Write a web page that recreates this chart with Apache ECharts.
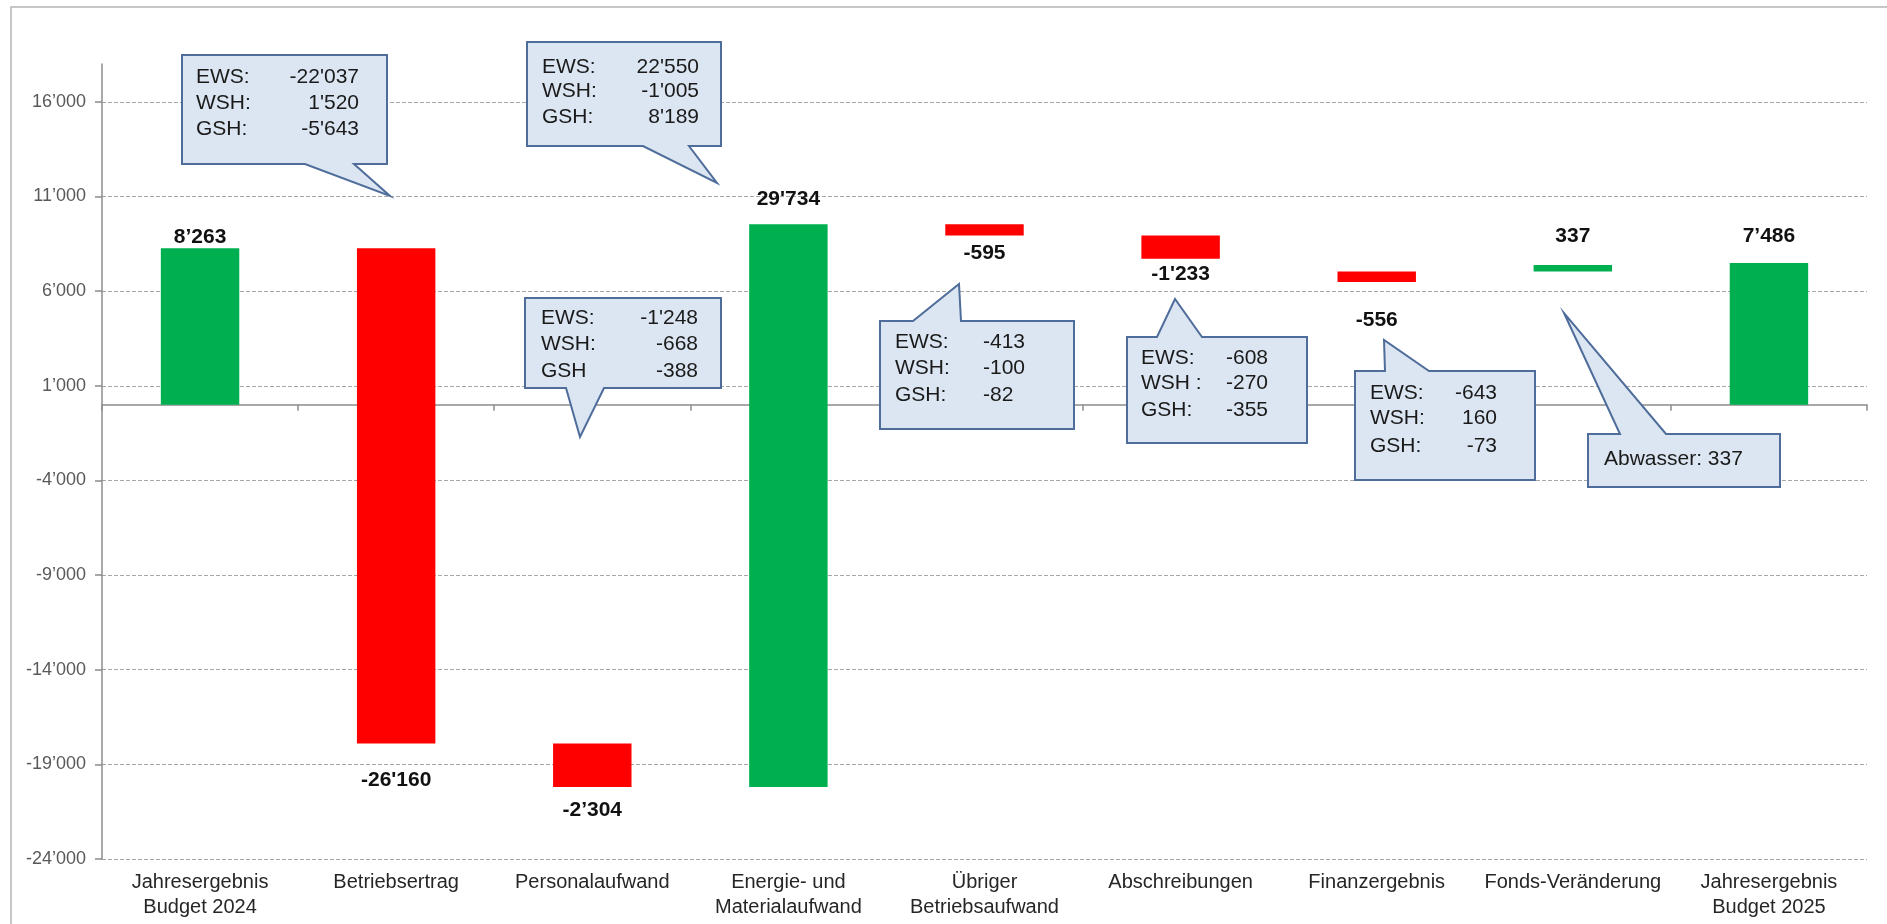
<!DOCTYPE html>
<html>
<head>
<meta charset="utf-8">
<script src="https://cdn.jsdelivr.net/npm/echarts@6/dist/echarts.min.js"></script>
<style>
  html, body { margin: 0; padding: 0; background: #fff; }
  #chart { width: 1887px; height: 924px; }
</style>
</head>
<body>
<div id="chart"></div>
<script>
// categories of the bridge
var categories = ['Jahresergebnis\nBudget 2024', 'Betriebsertrag', 'Personalaufwand', 'Energie- und\nMaterialaufwand',
    'Übriger\nBetriebsaufwand', 'Abschreibungen', 'Finanzergebnis', 'Fonds-Veränderung', 'Jahresergebnis\nBudget 2025'];
// where each floating bar starts and ends
var barFrom = [0, 8263, -17897, -20201, 9533, 8938, 7040, 7040, 0];
var barTo   = [8263, -17897, -20201, 9533, 8938, 7705, 6484, 7377, 7486];
// printed values
var valueLabels = ['8’263', '-26\'160', '-2’304', '29\'734', '-595', '-1\'233', '-556', '337', '7’486'];
// y ticks
var tickValues = [-24000, -19000, -14000, -9000, -4000, 1000, 6000, 11000, 16000];

// callout texts
var calloutNames = [
    ['EWS:', 'WSH:', 'GSH:'],
    ['EWS:', 'WSH:', 'GSH:'],
    ['EWS:', 'WSH:', 'GSH'],
    ['EWS:', 'WSH:', 'GSH:'],
    ['EWS:', 'WSH :', 'GSH:'],
    ['EWS:', 'WSH:', 'GSH:'],
    ['Abwasser: 337']
];
var calloutValues = [
    ['-22\'037', '1\'520', '-5\'643'],
    ['22\'550', '-1\'005', '8\'189'],
    ['-1\'248', '-668', '-388'],
    ['-413', '-100', '-82'],
    ['-608', '-270', '-355'],
    ['-643', '160', '-73'],
    []
];

// label distance from bar end (px)
var labelGap = [1, 26, 13, 15, 7, 5, 28, 18, 16];

// callout layout (px)
var calloutLayout = [
    {box: [182, 55, 387, 164], side: 'bottom', base: [305, 354], tip: [390, 196], tx: 196, vx: 359, rows: [77, 103, 129]},
    {box: [527, 42, 721, 146], side: 'bottom', base: [643, 689], tip: [717, 183], tx: 542, vx: 699, rows: [67, 91, 117]},
    {box: [525, 298, 721, 388], side: 'bottom', base: [566, 604], tip: [580, 437], tx: 541, vx: 698, rows: [318, 344, 371]},
    {box: [880, 321, 1074, 429], side: 'top', base: [913, 961], tip: [959, 284], tx: 895, vx: 983, valAlign: 'left', rows: [342, 368, 395]},
    {box: [1127, 337, 1307, 443], side: 'top', base: [1157, 1202], tip: [1175, 299], tx: 1141, vx: 1268, rows: [358, 383, 410]},
    {box: [1355, 371, 1535, 480], side: 'top', base: [1385, 1429], tip: [1384, 340], tx: 1370, vx: 1497, rows: [393, 418, 446]},
    {box: [1588, 434, 1780, 487], side: 'top', base: [1620, 1666], tip: [1564, 313], tx: 1604, vx: 0, rows: [459]}
];

var GREEN = '#00b050', RED = '#ff0000';
var FONT = '"Liberation Sans", Arial, sans-serif';

function fmtThousands(v) {
    var s = String(Math.abs(v)).replace(/\B(?=(\d{3})+(?!\d))/g, '’');
    return (v < 0 ? '-' : '') + s;
}

function calloutPoints(c) {
    var x0 = c.box[0], y0 = c.box[1], x1 = c.box[2], y1 = c.box[3];
    if (c.side === 'bottom')
        return [[x0, y0], [x1, y0], [x1, y1], [c.base[1], y1], c.tip, [c.base[0], y1], [x0, y1]];
    return [[x0, y0], [c.base[0], y0], c.tip, [c.base[1], y0], [x1, y0], [x1, y1], [x0, y1]];
}

var graphics = [{
    type: 'rect', z: 0, silent: true,
    shape: {x: 11, y: 7, width: 1900, height: 940},
    style: {fill: 'none', stroke: '#b4b4b4', lineWidth: 1.5}
}];
calloutLayout.forEach(function (c, k) {
    graphics.push({
        type: 'polygon', z: 100,
        shape: {points: calloutPoints(c)},
        style: {fill: '#dce6f2', stroke: '#4f6d9a', lineWidth: 2}
    });
    calloutNames[k].forEach(function (name, r) {
        graphics.push({
            type: 'text', z: 101, x: c.tx, y: c.rows[r],
            style: {text: name, font: '21px ' + FONT, fill: '#1a1a1a', align: 'left', verticalAlign: 'middle'}
        });
        if (calloutValues[k][r] !== undefined) {
            graphics.push({
                type: 'text', z: 101, x: c.vx, y: c.rows[r],
                style: {text: calloutValues[k][r], font: '21px ' + FONT, fill: '#1a1a1a',
                        align: c.valAlign || 'right', verticalAlign: 'middle'}
            });
        }
    });
});

var chart = echarts.init(document.getElementById('chart'));
var option = {
    backgroundColor: '#ffffff',
    animation: false,
    grid: {left: 102, right: 20, top: 64, bottom: 65, containLabel: false, outerBoundsMode: 'none'},
    xAxis: [{
        type: 'category', data: categories, position: 'bottom',
        axisLine: {show: false, onZero: false},
        axisTick: {show: false},
        axisLabel: {interval: 0, fontSize: 20, fontFamily: FONT, color: '#262626', lineHeight: 25, margin: 11}
    }, {
        type: 'category', data: categories, position: 'top',
        axisLine: {show: true, onZero: true, lineStyle: {color: '#8c8c8c', width: 1.5}},
        axisTick: {show: true, inside: true, length: 6, lineStyle: {color: '#8c8c8c', width: 1.5}},
        axisLabel: {show: false}
    }],
    yAxis: {
        type: 'value', min: -24000, max: 18000, interval: 5000,
        axisLine: {show: true, lineStyle: {color: '#8c8c8c', width: 1.5}},
        axisTick: {show: true, length: 7, customValues: tickValues, lineStyle: {color: '#8c8c8c', width: 1.5}},
        axisLabel: {
            customValues: tickValues, margin: 16,
            fontSize: 18, fontFamily: FONT, color: '#595959',
            formatter: fmtThousands
        },
        splitLine: {show: true, lineStyle: {color: '#a6a6a6', type: [4, 2], width: 1}}
    },
    series: [{
        type: 'custom',
        xAxisIndex: 0,
        encode: {x: 0, y: [1, 2]},
        data: categories.map(function (c, i) { return [i, barFrom[i], barTo[i]]; }),
        renderItem: function (params, api) {
            var i = params.dataIndex;
            var a = api.coord([i, api.value(1)]);
            var b = api.coord([i, api.value(2)]);
            var w = api.size([1, 0])[0] * 0.4;
            var up = api.value(2) >= api.value(1);
            var top = Math.min(a[1], b[1]), bottom = Math.max(a[1], b[1]);
            return {
                type: 'group',
                children: [{
                    type: 'rect',
                    shape: {x: a[0] - w / 2, y: top, width: w, height: bottom - top},
                    style: {fill: up ? GREEN : RED}
                }, {
                    type: 'text',
                    x: a[0], y: up ? top - labelGap[i] : bottom + labelGap[i],
                    style: {
                        text: valueLabels[i], font: 'bold 21px ' + FONT, fill: '#111',
                        align: 'center', verticalAlign: up ? 'bottom' : 'top'
                    }
                }]
            };
        }
    }],
    graphic: graphics
};
chart.setOption(option);
</script>
</body>
</html>
